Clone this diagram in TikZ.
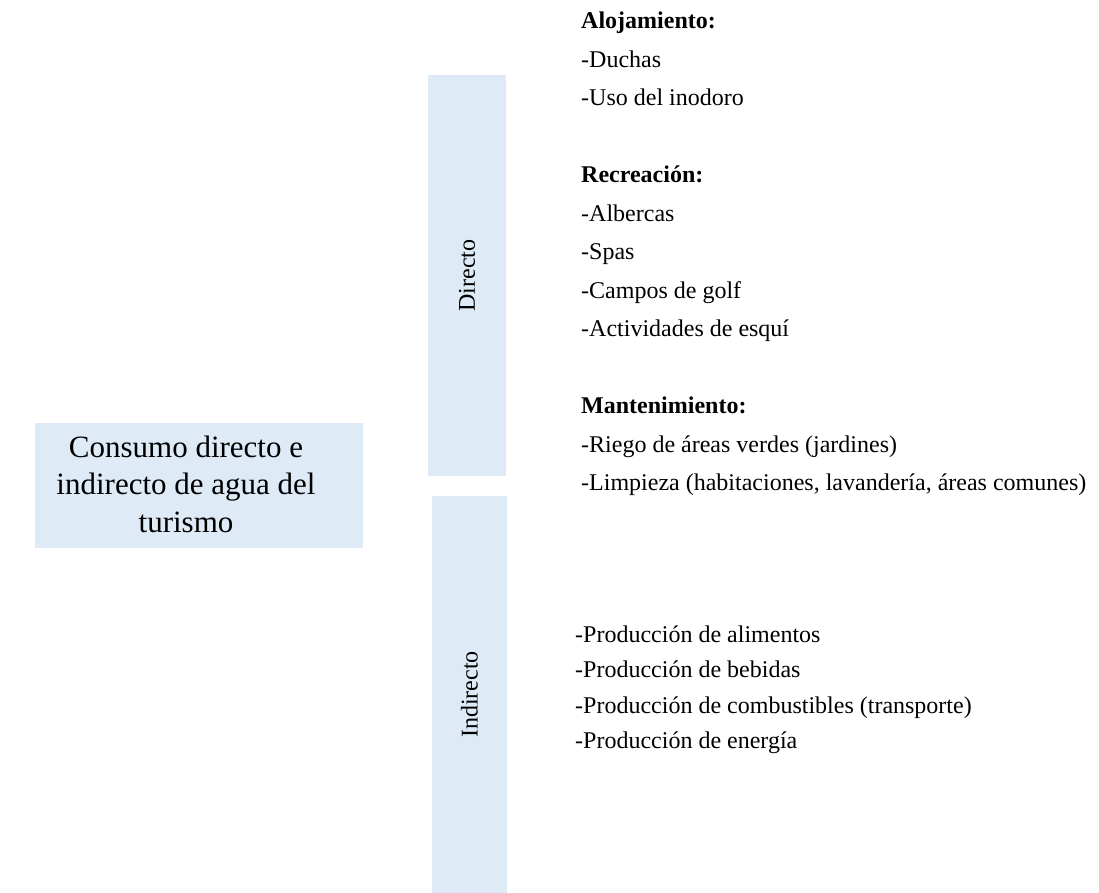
\documentclass[tikz,border=0pt]{standalone}
\usepackage{fontspec}
\setmainfont{Liberation Serif}
\definecolor{boxblue}{HTML}{DEEAF6}
\begin{document}
\begin{tikzpicture}[x=1pt,y=-1pt,
  box/.style={fill=boxblue, draw=none, inner sep=0pt},
  maintxt/.style={anchor=base, inner sep=0pt, font=\fontsize{31}{37.5}\selectfont},
  vlabel/.style={rotate=90, inner sep=0pt, font=\fontsize{24}{28}\selectfont},
  dlist/.style={anchor=base west, inner sep=0pt, font=\fontsize{24}{38.5}\selectfont},
  ilist/.style={anchor=base west, inner sep=0pt, font=\fontsize{24}{35.5}\selectfont}]
\useasboundingbox (0,0) rectangle (1099,893);
% boxes
\node[box, minimum width=328pt, minimum height=125pt] (main) at (199,485.5) {};
\node[box, minimum width=78pt, minimum height=401pt] (directo) at (467,275.5) {};
\node[box, minimum width=75pt, minimum height=397pt] (indirecto) at (469.5,694.5) {};
% texts
\node[maintxt] (maintext) at (186,457) {\begin{tabular}[t]{@{}c@{}}Consumo directo e\\ indirecto de agua del\\ turismo\end{tabular}};
\node[vlabel] (dlabel) at (directo.center) {Directo};
\node[vlabel] (ilabel) at (indirecto.center) {Indirecto};
\node[dlist] (dtext) at (581,29) {\begin{tabular}[t]{@{}l@{}}\textbf{Alojamiento:}\\ -Duchas\\ -Uso del inodoro\\ \\ \textbf{Recreación:}\\ -Albercas\\ -Spas\\ -Campos de golf\\ -Actividades de esquí\\ \\ \textbf{Mantenimiento:}\\ -Riego de áreas verdes (jardines)\\ -Limpieza (habitaciones, lavandería, áreas comunes)\end{tabular}};
\node[ilist] (itext) at (575,642) {\begin{tabular}[t]{@{}l@{}}-Producción de alimentos\\ -Producción de bebidas\\ -Producción de combustibles (transporte)\\ -Producción de energía\end{tabular}};
\end{tikzpicture}
\end{document}
